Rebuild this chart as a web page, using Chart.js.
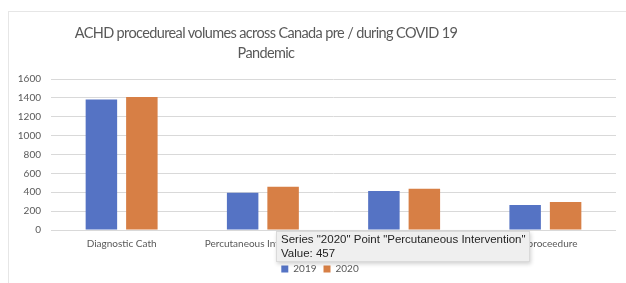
<!DOCTYPE html>
<html>
<head>
<meta charset="utf-8">
<script src="https://cdn.jsdelivr.net/npm/chart.js@4/dist/chart.umd.min.js"></script>
<style>
  html, body { margin: 0; padding: 0; background: #fff; }
  #wrap { position: relative; width: 626px; height: 283px; overflow: hidden; }
  #frame { position: absolute; left: 8px; top: 11px; width: 640px; height: 300px;
           border-top: 1px solid #e6e6e6; border-left: 1px solid #e6e6e6; }
  #title { position: absolute; left: 0; top: 23px; width: 532px; text-align: center;
           font-family: Lato, sans-serif; font-size: 14.5px; letter-spacing: -0.63px; line-height: 20px; color: #595959; }
  #tip { position: absolute; left: 276px; top: 231px; width: 244px; height: 27px;
         padding: 1px 4px; background: #efefef; border: 1px solid #dadada;
         box-shadow: 1px 2px 4px rgba(0,0,0,0.18);
         font-family: "Liberation Sans", Arial, sans-serif; font-size: 11.5px; line-height: 13.5px; color: #1f1f1f; white-space: nowrap; }
  canvas { position: absolute; left: 0; top: 0; }
</style>
</head>
<body>
<div id="wrap">
  <div id="frame"></div>
  <canvas id="c" width="626" height="283"></canvas>
  <div id="title">ACHD procedureal volumes across Canada pre / during COVID 19<br>Pandemic</div>
  <div id="tip"></div>
</div>
<script>
const categories = ["Diagnostic Cath", "Percutaneous Intervention", "Surgical proceedure", "EP proceedure"];
const series2019 = [1384, 395, 413, 265];
const series2020 = [1410, 457, 438, 297];
const yTicks = [0, 200, 400, 600, 800, 1000, 1200, 1400, 1600];
const seriesNames = ["2019", "2020"];

const tipSeries = 1, tipPoint = 1;
document.getElementById('tip').innerHTML =
  'Series "' + seriesNames[tipSeries] + '" Point "' + categories[tipPoint] + '"<br>Value: ' +
  [series2019, series2020][tipSeries][tipPoint];

const shiftLegend = {
  id: 'shiftLegend',
  afterLayout(chart) {
    const lg = chart.legend;
    if (lg) { lg.left += 24; }
  }
};

const font = { family: 'Lato, sans-serif', size: 10 };
new Chart(document.getElementById('c'), {
  type: 'bar',
  data: {
    labels: categories,
    datasets: [
      { label: seriesNames[0], data: series2019, backgroundColor: '#5573C4' },
      { label: seriesNames[1], data: series2020, backgroundColor: '#D77F45' }
    ]
  },
  plugins: [shiftLegend],
  options: {
    responsive: false,
    animation: false,
    events: [],
    layout: { padding: { top: 79, left: 0, right: 10, bottom: 0 } },
    datasets: { bar: { categoryPercentage: 0.573, barPercentage: 0.778 } },
    scales: {
      x: {
        grid: { display: false, drawTicks: false },
        border: { display: false },
        ticks: { color: '#595959', font: font, padding: 8, maxRotation: 0, autoSkip: false },
        afterFit: s => { s.height = 27; }
      },
      y: {
        min: yTicks[0], max: yTicks[yTicks.length - 1],
        grid: { color: '#d9d9d9', drawTicks: false },
        border: { display: false },
        ticks: { color: '#595959', font: font, padding: 10, stepSize: yTicks[1] - yTicks[0],
                 callback: v => String(v) },
        afterBuildTicks: s => { s.ticks = yTicks.map(v => ({ value: v })); },
        afterFit: s => { s.width = 51; }
      }
    },
    plugins: {
      title: { display: false },
      tooltip: { enabled: false },
      legend: {
        position: 'bottom',
        maxHeight: 26,
        labels: { color: '#595959', font: font, boxWidth: 7, boxHeight: 7, padding: 7 }
      }
    }
  }
});
</script>
</body>
</html>
